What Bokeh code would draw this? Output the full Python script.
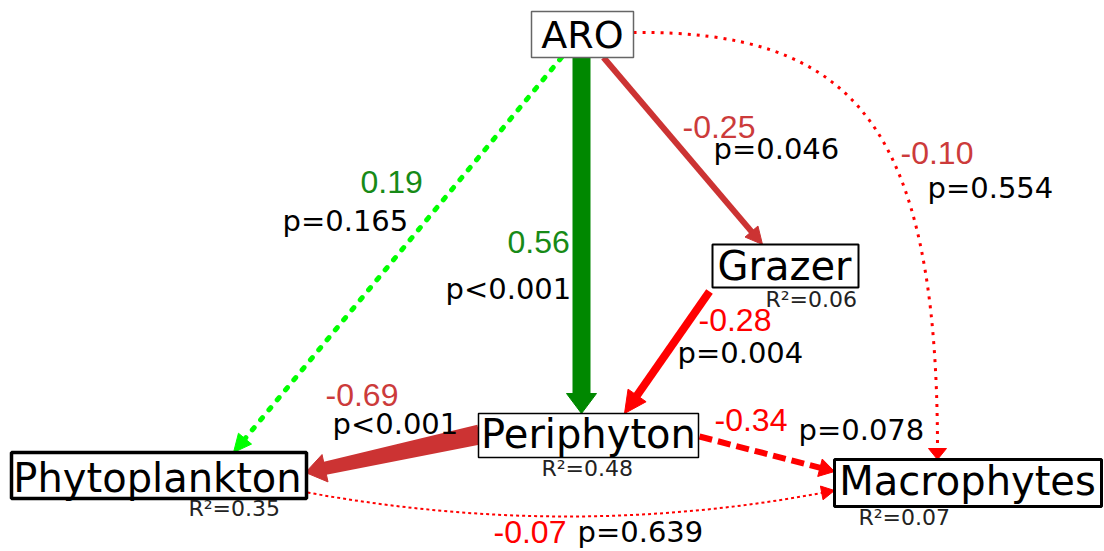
import numpy as np
from bokeh.plotting import figure
from bokeh.models import Range1d
from bokeh.core.properties import value
from bokeh.embed import file_html
from bokeh.resources import INLINE

# ---------------- data ----------------
nodes = ["ARO", "Grazer", "Periphyton", "Phytoplankton", "Macrophytes"]
r2_values = [None, 0.06, 0.48, 0.35, 0.07]

edge_from = ["ARO", "ARO", "ARO", "ARO", "Grazer", "Periphyton", "Periphyton", "Phytoplankton"]
edge_to = ["Periphyton", "Grazer", "Phytoplankton", "Macrophytes", "Periphyton",
           "Phytoplankton", "Macrophytes", "Macrophytes"]
coefficients = [0.56, -0.25, 0.19, -0.10, -0.28, -0.69, -0.34, -0.07]
p_values = ["p<0.001", "p=0.046", "p=0.165", "p=0.554", "p=0.004", "p<0.001", "p=0.078", "p=0.639"]

# ---------------- layout (pixel-like data coords, y downwards) ----------------
box = {  # left, right, top, bottom, border colour, border width
    "ARO": (531, 633, 11, 57, "#666666", 1.5),
    "Grazer": (712, 858, 244, 287, "black", 2),
    "Periphyton": (478, 698, 413, 457, "black", 1.5),
    "Phytoplankton": (11, 306, 452, 498, "black", 3.5),
    "Macrophytes": (834, 1101, 459, 506, "black", 3),
}
name_pos = {"ARO": (582, 47, 38), "Grazer": (784, 278, 40), "Periphyton": (588, 446, 40),
            "Phytoplankton": (157, 490, 40), "Macrophytes": (967, 493, 40)}
r2_pos = {"Grazer": (765, 306), "Periphyton": (541, 475), "Phytoplankton": (188, 515),
          "Macrophytes": (858, 524)}

# per edge: start, tip, control points (None = straight), colour, width (or (start, end) taper),
# dash, cap, head len, head width
edge_geom = [
    ((581, 57), (581, 413), None, "#008800", 18, "solid", "butt", 20, 30),
    ((603, 57), (762, 244), None, "#cc3333", 6, "solid", "butt", 17, 17),
    ((561, 57), (233, 452), None, "#00ff00", 5, "3 10", "round", 18, 17),
    ((633, 32), (937, 459), [(850, 30), (937, 120)], "#ff0000", 3, "3 6", "butt", 11, 18),
    ((709, 291), (624, 413), None, "#ff0000", 8, "solid", "butt", 22, 22),
    ((479, 434), (305, 472), None, "#cc3333", (20, 13), "solid", "butt", 20, 28),
    ((699, 436), (834, 471), None, "#ff0000", 6, "13 6", "butt", 15, 18),
    ((307, 492), (834, 490), [(570, 540)], "#ff0000", 2, "3 3", "butt", 13, 14),
]
coef_pos = [(507, 252), (682, 137), (360, 192), (900, 163), (698, 330), (325, 405), (714, 430), (493, 542)]
coef_col = ["#178a17", "#cc3b3b", "#178a17", "#cc3b3b", "#ff0000", "#cc3b3b", "#ff0000", "#ff0000"]
pval_pos = [(445, 298), (713, 158), (282, 230), (927, 197), (677, 362), (332, 433), (798, 439), (577, 541)]

# ---------------- figure ----------------
p = figure(width=1104, height=551, x_range=Range1d(0, 1104), y_range=Range1d(551, 0),
           output_backend="svg", toolbar_location=None, min_border=0,
           x_axis_location=None, y_axis_location=None)
p.grid.visible = False
p.outline_line_color = None

sans = value("DejaVu Sans")
arial = value("Liberation Sans")
BASE_SHIFT = 0.32  # renderer places the alphabetic baseline ~0.32 em below y


def label(x, y, txt, font, fs, color, align="left"):
    p.text(x=[x], y=[y - BASE_SHIFT * fs], text=[txt], text_align=align,
           text_baseline="alphabetic", text_font=font, text_font_size=f"{fs}px",
           text_color=color)


for i, (s, t, ctrl, col, w, dash, cap, hl, hw) in enumerate(edge_geom):
    s = np.array(s, float)
    t = np.array(t, float)
    if ctrl is None:
        d = (t - s) / np.linalg.norm(t - s)
        end = t - d * hl * 0.8
        if isinstance(w, tuple):
            nrm = np.array([-d[1], d[0]])
            poly = [s + nrm * w[0] / 2, end + nrm * w[1] / 2, end - nrm * w[1] / 2, s - nrm * w[0] / 2]
            p.patch([q[0] for q in poly], [q[1] for q in poly], fill_color=col, line_color=None)
        else:
            p.line([s[0], end[0]], [s[1], end[1]], line_color=col, line_width=w,
                   line_dash=dash, line_cap=cap)
    elif len(ctrl) == 1:
        c = np.array(ctrl[0], float)
        d = (t - c) / np.linalg.norm(t - c)
        end = t - d * hl * 0.8
        p.quadratic(x0=[s[0]], y0=[s[1]], x1=[end[0]], y1=[end[1]], cx=[c[0]], cy=[c[1]],
                    line_color=col, line_width=w, line_dash=dash, line_cap=cap)
    else:
        c0 = np.array(ctrl[0], float)
        c1 = np.array(ctrl[1], float)
        d = (t - c1) / np.linalg.norm(t - c1)
        end = t - d * hl * 0.8
        p.bezier(x0=[s[0]], y0=[s[1]], x1=[end[0]], y1=[end[1]], cx0=[c0[0]], cy0=[c0[1]],
                 cx1=[c1[0]], cy1=[c1[1]], line_color=col, line_width=w,
                 line_dash=dash, line_cap=cap)
    base = t - d * hl
    perp = np.array([-d[1], d[0]])
    pts = [t, base + perp * hw / 2, base - perp * hw / 2]
    p.patch([q[0] for q in pts], [q[1] for q in pts], fill_color=col, line_color=col, line_width=1)

# boxes and node names
for n in nodes:
    l, r, tp, b, lc, lw = box[n]
    p.quad(left=[l], right=[r], top=[tp], bottom=[b], fill_color="white",
           line_color=lc, line_width=lw)
    x, y, fs = name_pos[n]
    label(x, y, n, sans, fs, "black", align="center")

# R² labels
for n, r2 in zip(nodes, r2_values):
    if r2 is None:
        continue
    x, y = r2_pos[n]
    label(x, y, f"R\u00b2={r2:.2f}", sans, 22, "#222222")

# coefficient and p labels
for i, c in enumerate(coefficients):
    x, y = coef_pos[i]
    label(x, y, f"{c:.2f}", arial, 32, coef_col[i])
    x, y = pval_pos[i]
    label(x, y, p_values[i], sans, 29, "black")

open("out.html", "w").write(file_html(p, INLINE))
